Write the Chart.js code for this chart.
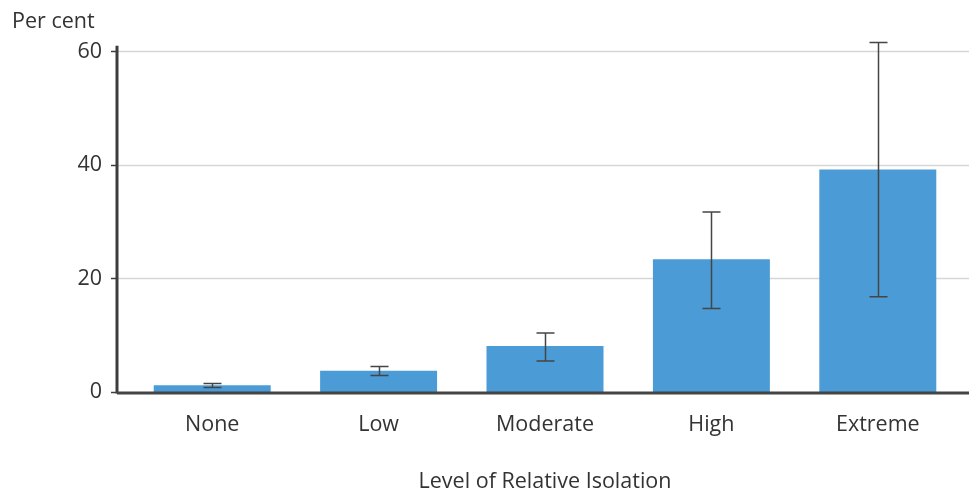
<!DOCTYPE html>
<html>
<head>
<meta charset="utf-8">
<script src="https://cdn.jsdelivr.net/npm/chart.js@4"></script>
<style>
  html, body { margin: 0; padding: 0; background: #ffffff; }
  #wrap { width: 969px; height: 491px; position: relative; }
</style>
</head>
<body>
<div id="wrap"><canvas id="c"></canvas></div>
<script>
const categories = ['None', 'Low', 'Moderate', 'High', 'Extreme'];
const values = [1.2, 3.75, 8.1, 23.4, 39.2];
const errLow = [0.8, 2.9, 5.45, 14.7, 16.8];
const errHigh = [1.5, 4.5, 10.4, 31.7, 61.6];
const yTicks = [0, 20, 40, 60];
const yTitle = 'Per cent';
const xTitle = 'Level of Relative Isolation';

const FONT = '"Open Sans", "Noto Sans", sans-serif';
const TEXT = '#333333';
const FS = 21.5;

const axesPlugin = {
  id: 'customAxes',
  beforeDatasetsDraw(chart) {
    const ctx = chart.ctx, y = chart.scales.y;
    const left = 117, right = 969;
    ctx.save();
    ctx.strokeStyle = '#d6d6d6';
    ctx.lineWidth = 1.5;
    yTicks.forEach(v => {
      if (v === 0) return;
      const py = Math.round(y.getPixelForValue(v)) + 0.5;
      ctx.beginPath(); ctx.moveTo(left, py); ctx.lineTo(right, py); ctx.stroke();
    });
    ctx.restore();
  },
  afterDatasetsDraw(chart) {
    const ctx = chart.ctx, y = chart.scales.y, x = chart.scales.x;
    const left = 117, right = 969;
    ctx.save();
    ctx.strokeStyle = '#454545';
    ctx.lineWidth = 1.5;
    categories.forEach((c, i) => {
      const px = Math.round(x.getPixelForValue(i)) + 0.5;
      const yl = y.getPixelForValue(errLow[i]);
      const yh = y.getPixelForValue(errHigh[i]);
      ctx.beginPath();
      ctx.moveTo(px, yl); ctx.lineTo(px, yh);
      ctx.moveTo(px - 9, yh); ctx.lineTo(px + 9, yh);
      ctx.moveTo(px - 9, yl); ctx.lineTo(px + 9, yl);
      ctx.stroke();
    });
    ctx.strokeStyle = '#3d3d3d';
    ctx.lineWidth = 1.5;
    yTicks.forEach(v => {
      const py = Math.round(y.getPixelForValue(v)) + 0.5;
      ctx.beginPath(); ctx.moveTo(111, py); ctx.lineTo(left, py); ctx.stroke();
    });
    ctx.lineWidth = 3;
    ctx.beginPath();
    ctx.moveTo(left, chart.chartArea.top);
    ctx.lineTo(left, y.getPixelForValue(0) + 1.5);
    ctx.stroke();
    ctx.strokeStyle = '#444444';
    const py0 = y.getPixelForValue(0) + 1;
    ctx.beginPath(); ctx.moveTo(left, py0); ctx.lineTo(right, py0); ctx.stroke();
    ctx.restore();
  }
};

new Chart(document.getElementById('c'), {
  type: 'bar',
  data: {
    labels: categories,
    datasets: [{
      data: values,
      backgroundColor: '#4b9bd6',
      borderWidth: 0,
      barPercentage: 0.703,
      categoryPercentage: 1.0
    }]
  },
  options: {
    responsive: true,
    maintainAspectRatio: false,
    animation: false,
    layout: { padding: { left: 12, right: 8, top: 0, bottom: 0 } },
    plugins: {
      legend: { display: false },
      tooltip: { enabled: false },
      title: {
        display: true,
        text: yTitle,
        align: 'start',
        color: TEXT,
        font: { family: FONT, size: FS, weight: 'normal' },
        padding: { top: 9, bottom: 11 }
      }
    },
    scales: {
      x: {
        afterFit(scale) { scale.height = 99; },
        grid: { display: false, drawTicks: false },
        border: { display: false },
        ticks: { color: TEXT, font: { family: FONT, size: FS }, padding: 20, maxRotation: 0 },
        title: {
          display: true,
          text: xTitle,
          color: TEXT,
          font: { family: FONT, size: FS },
          padding: { top: 14, bottom: -4 }
        }
      },
      y: {
        min: 0,
        max: 61,
        afterFit(scale) { scale.width = 117; },
        afterBuildTicks(scale) { scale.ticks = yTicks.map(v => ({ value: v })); },
        grid: { display: false, drawTicks: false },
        border: { display: false },
        ticks: { color: TEXT, font: { family: FONT, size: FS }, padding: 27 }
      }
    }
  },
  plugins: [axesPlugin]
});
</script>
</body>
</html>
